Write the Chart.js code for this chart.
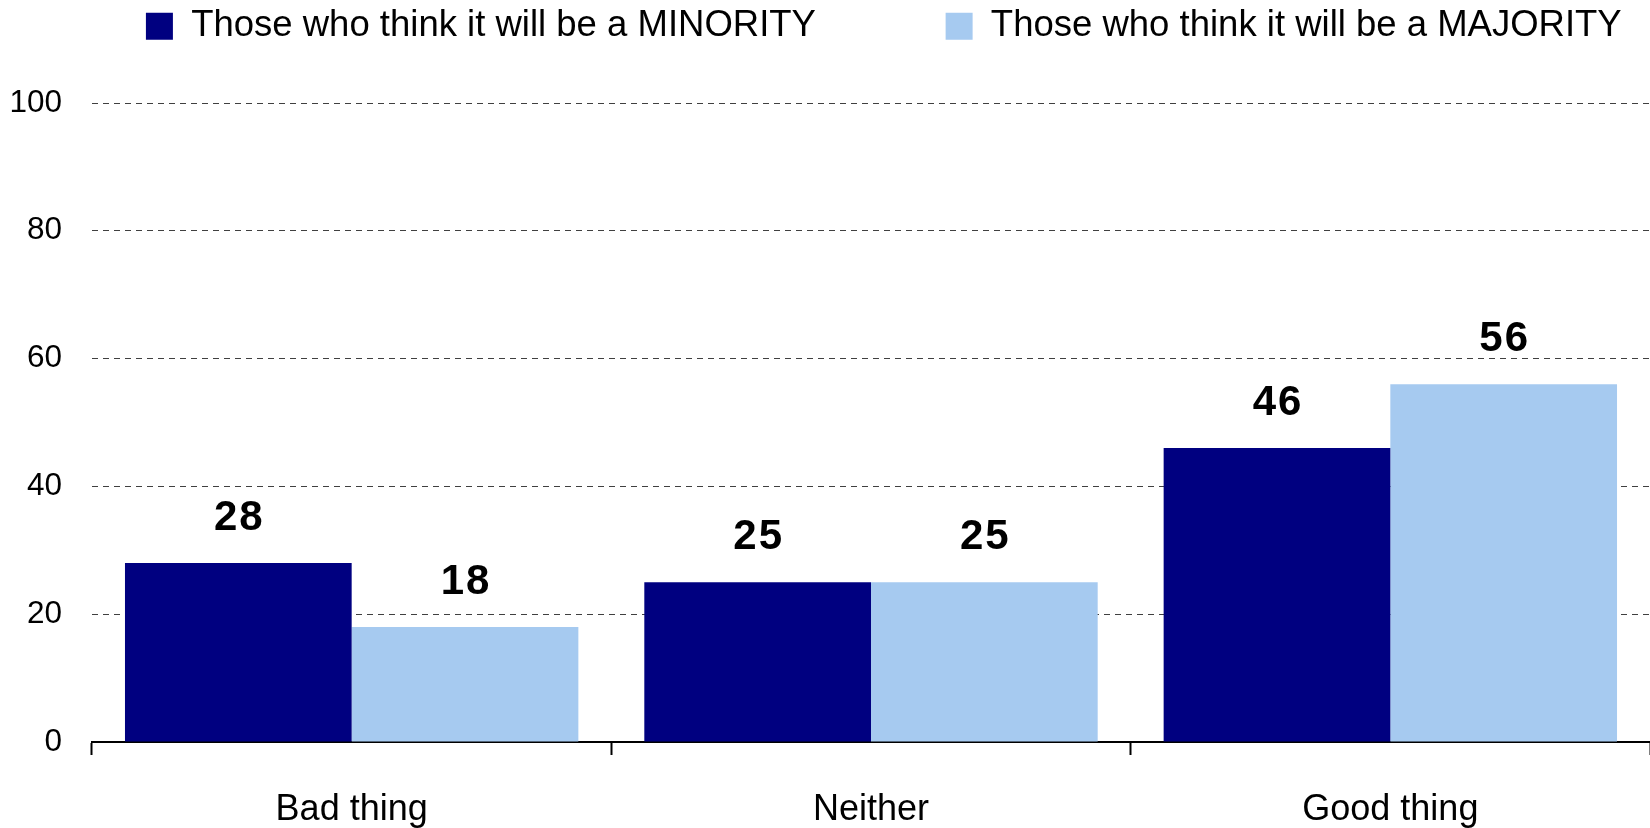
<!DOCTYPE html>
<html>
<head>
<meta charset="utf-8">
<script src="https://cdn.jsdelivr.net/npm/chart.js@4"></script>
<style>
  html, body { margin: 0; padding: 0; background: #fff; }
  #wrap { width: 1650px; height: 828px; }
</style>
</head>
<body>
<div id="wrap"><canvas id="myChart" width="1650" height="828"></canvas></div>
<script>
// Chart data
const categories = ['Bad thing', 'Neither', 'Good thing'];
const seriesNames = ['Those who think it will be a MINORITY', 'Those who think it will be a MAJORITY'];
const minorityValues = [28, 25, 46];
const majorityValues = [18, 25, 56];
const yTicks = [0, 20, 40, 60, 80, 100];

const FONT = '"Liberation Sans", Arial, sans-serif';

// value labels drawn above each bar
const valueLabels = {
  id: 'valueLabels',
  afterDatasetsDraw(chart) {
    const ctx = chart.ctx;
    ctx.save();
    ctx.font = 'bold 42px ' + FONT;
    ctx.letterSpacing = '2px';
    ctx.fillStyle = '#000';
    ctx.textAlign = 'center';
    ctx.textBaseline = 'middle';
    chart.data.datasets.forEach((ds, i) => {
      chart.getDatasetMeta(i).data.forEach((bar, j) => {
        ctx.fillText(ds.data[j], bar.x + 1, bar.y - 45);
      });
    });
    ctx.restore();
  }
};

// more room under the legend
const legendGap = {
  id: 'legendGap',
  beforeInit(chart) {
    const fit = chart.legend.fit;
    chart.legend.fit = function () {
      fit.call(this);
      this.height = 103;
    };
  }
};

const data = {
  labels: categories,
  datasets: [{
    label: seriesNames[0],
    data: minorityValues,
    backgroundColor: '#000080'
  }, {
    label: seriesNames[1],
    data: majorityValues,
    backgroundColor: '#A6CAF0'
  }]
};

const options = {
  responsive: false,
  animation: false,
  layout: { padding: 0 },
  datasets: {
    bar: { categoryPercentage: 0.873, barPercentage: 1.0 }
  },
  plugins: {
    legend: {
      position: 'top',
      align: 'end',
      labels: {
        color: '#000',
        font: { family: FONT, size: 36.5 },
        boxWidth: 27,
        boxHeight: 27,
        padding: 8,
        // pad the labels so the two items sit apart like the original
        generateLabels(chart) {
          const items = Chart.defaults.plugins.legend.labels.generateLabels(chart);
          items[0].text = items[0].text + ' '.repeat(12);
          items[1].text = items[1].text + ' '.repeat(2);
          return items;
        }
      }
    },
    tooltip: { enabled: false }
  },
  scales: {
    x: {
      grid: {
        display: true,
        offset: true,
        drawOnChartArea: false,
        drawTicks: true,
        tickLength: 13,
        tickWidth: 2,
        tickColor: '#000'
      },
      border: { display: true, color: '#000', width: 2 },
      ticks: {
        color: '#000',
        padding: 33,
        font: { family: FONT, size: 36 }
      },
      afterFit(scale) { scale.height = 86; }
    },
    y: {
      min: 0,
      max: 100,
      afterBuildTicks(scale) { scale.ticks = yTicks.map(v => ({ value: v })); },
      grid: {
        color: '#404040',
        lineWidth: 1,
        drawTicks: false
      },
      border: { display: false, dash: [6, 5] },
      ticks: {
        color: '#000',
        padding: 30,
        font: { family: FONT, size: 31.5 }
      },
      afterFit(scale) { scale.width = 92; }
    }
  }
};

const ctx = document.getElementById('myChart');
const myChart = new Chart(ctx, {
  type: 'bar',
  data: data,
  options: options,
  plugins: [valueLabels, legendGap]
});
</script>
</body>
</html>
